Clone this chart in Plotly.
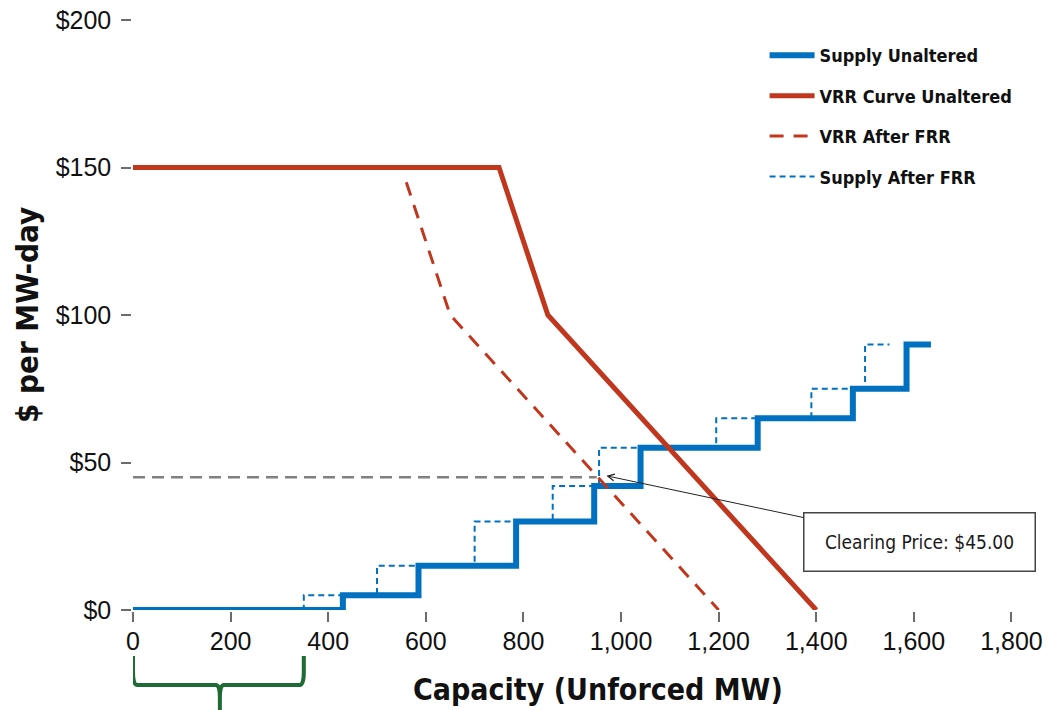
import plotly.graph_objects as go

# ---------------- data ----------------
supply_unaltered_mw = [0, 430, 430, 585, 585, 785, 785, 945, 945, 1040, 1040, 1280, 1280, 1475, 1475, 1585, 1585, 1635]
supply_unaltered_price = [0, 0, 5, 5, 15, 15, 30, 30, 42, 42, 55, 55, 65, 65, 75, 75, 90, 90]

supply_frr_mw = [0, 350, 350, 500, 500, 700, 700, 860, 860, 955, 955, 1195, 1195, 1390, 1390, 1500, 1500, 1550]
supply_frr_price = [0, 0, 5, 5, 15, 15, 30, 30, 42, 42, 55, 55, 65, 65, 75, 75, 90, 90]

vrr_unaltered_mw = [0, 750, 850, 1400]
vrr_unaltered_price = [150, 150, 100, 0]

vrr_frr_mw = [560, 650, 1200]
vrr_frr_price = [145, 100, 0]

clearing_mw = [0, 950]
clearing_price = [45, 45]
clearing_label = "Clearing Price: $45.00"
clearing_point = (970, 45.5)
clearing_box = (1612, 23)

brace_mw = (0, 178, 350)

x_ticks = [0, 200, 400, 600, 800, 1000, 1200, 1400, 1600, 1800]
x_ticktext = ["0", "200", "400", "600", "800", "1,000", "1,200", "1,400", "1,600", "1,800"]
y_ticks = [0, 50, 100, 150, 200]
y_ticktext = ["$0", "$50", "$100", "$150", "$200"]

BLUE = "#0070C0"
RED = "#C0371E"
GREEN = "#1F6B35"
AXIS = "#6b6b6b"
NARROW = "Liberation Sans Narrow, Arial Narrow, DejaVu Sans Condensed, Liberation Sans, Arial, sans-serif"
REG = "Liberation Sans, Arial, sans-serif"

fig = go.Figure()

fig.add_trace(go.Scatter(x=supply_unaltered_mw, y=supply_unaltered_price, mode="lines",
                         name="<b>Supply Unaltered</b>", legendgroup="a",
                         line=dict(color=BLUE, width=6), zorder=2))
fig.add_trace(go.Scatter(x=vrr_unaltered_mw, y=vrr_unaltered_price, mode="lines",
                         name="<b>VRR Curve Unaltered</b>", legendgroup="b",
                         line=dict(color=RED, width=5), zorder=4))
fig.add_trace(go.Scatter(x=vrr_frr_mw, y=vrr_frr_price, mode="lines",
                         name="<b>VRR After FRR</b>", legendgroup="c",
                         line=dict(color=RED, width=3, dash="14px,10px"), zorder=3))
fig.add_trace(go.Scatter(x=supply_frr_mw, y=supply_frr_price, mode="lines",
                         name="<b>Supply After FRR</b>", legendgroup="d",
                         line=dict(color=BLUE, width=2, dash="6px,4px"), zorder=1))
fig.add_trace(go.Scatter(x=clearing_mw, y=clearing_price, mode="lines", showlegend=False,
                         line=dict(color="#808080", width=2.5, dash="12px,7px"), zorder=0,
                         hoverinfo="skip"))

fig.add_annotation(x=clearing_point[0], y=clearing_point[1], xref="x", yref="y",
                   ax=clearing_box[0], ay=clearing_box[1], axref="x", ayref="y",
                   text=clearing_label, showarrow=True, arrowhead=5, arrowsize=1.3,
                   arrowwidth=1, arrowcolor="#222222",
                   font=dict(family=NARROW, size=19, color="#1a1a1a"),
                   bgcolor="white", bordercolor="#444444", borderwidth=1.5,
                   width=228, height=55, borderpad=1)

# x-axis title as an annotation so it can sit where the reference puts it
fig.add_annotation(x=0.507, y=-0.135, xref="paper", yref="paper", xanchor="center", yanchor="middle",
                   text="<b>Capacity (Unforced MW)</b>", showarrow=False,
                   font=dict(family=NARROW, size=30, color="#111111"))

# brace below the x axis
x0, xm, x1 = brace_mw
yt, yb, ys = -0.078, -0.127, -0.19
r = 8
ry = 0.022
path = (f"M {x0},{yt} L {x0},{yb + ry} Q {x0},{yb} {x0 + r},{yb} "
        f"L {xm - r},{yb} Q {xm},{yb} {xm},{yb - ry} L {xm},{ys} "
        f"M {xm},{yb - ry} Q {xm},{yb} {xm + r},{yb} "
        f"L {x1 - r},{yb} Q {x1},{yb} {x1},{yb + ry} L {x1},{yt}")
fig.add_shape(type="path", path=path, xref="x", yref="paper",
              line=dict(color=GREEN, width=4))

fig.update_layout(
    width=1051, height=710,
    margin=dict(l=133, r=0, t=20, b=100, autoexpand=False),
    plot_bgcolor="white", paper_bgcolor="white",
    legend=dict(x=0.688, y=0.971, xanchor="left", yanchor="top",
                font=dict(family=NARROW, size=18, color="#111111"),
                tracegroupgap=14, itemwidth=45, bgcolor="rgba(0,0,0,0)"),
    showlegend=True,
)
fig.update_xaxes(range=[0, 1881], tickvals=x_ticks, ticktext=x_ticktext, automargin=False,
                 showgrid=False, zeroline=False, showline=True, linecolor=AXIS, linewidth=1.5,
                 ticks="outside", ticklen=10, tickcolor=AXIS, tickwidth=1.5,
                 tickfont=dict(family=REG, size=25, color="#111111"), ticklabelstandoff=-2,
                 ticklabeloverflow="allow")
fig.update_yaxes(range=[0, 200], tickvals=y_ticks, ticktext=y_ticktext, automargin=False,
                 showgrid=False, zeroline=False, showline=True, linecolor=AXIS, linewidth=1.5,
                 ticks="outside", ticklen=10, tickcolor=AXIS, tickwidth=1.5,
                 tickfont=dict(family=REG, size=25, color="#111111"), ticklabelstandoff=5,
                 ticklabeloverflow="allow",
                 title=dict(text="<b>$ per MW-day</b>", standoff=8,
                            font=dict(family=NARROW, size=31, color="#111111")))

fig.write_html("out.html", config={"displayModeBar": False},
               post_script="document.body.style.margin='0';document.body.style.overflow='hidden';")
